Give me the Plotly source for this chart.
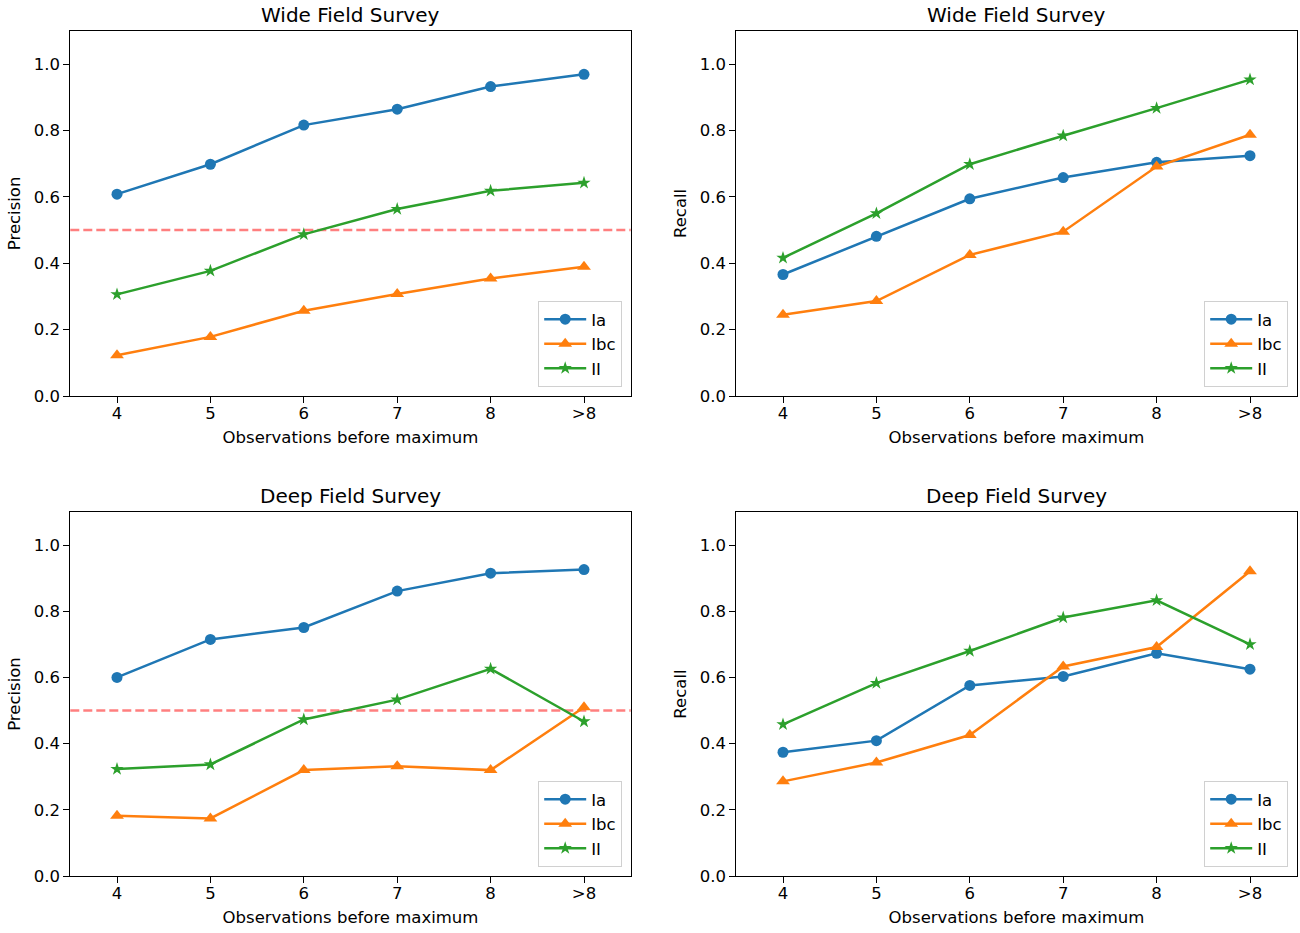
import plotly.graph_objects as go

categories = ["4", "5", "6", "7", "8", ">8"]
series_names = ["Ia", "Ibc", "II"]

wide_precision_ia = [0.608, 0.698, 0.816, 0.864, 0.932, 0.969]
wide_precision_ibc = [0.123, 0.178, 0.257, 0.307, 0.354, 0.389]
wide_precision_ii = [0.306, 0.377, 0.487, 0.563, 0.618, 0.642]

wide_recall_ia = [0.366, 0.481, 0.594, 0.658, 0.704, 0.724]
wide_recall_ibc = [0.245, 0.286, 0.425, 0.495, 0.691, 0.787]
wide_recall_ii = [0.416, 0.550, 0.698, 0.784, 0.867, 0.953]

deep_precision_ia = [0.600, 0.715, 0.751, 0.861, 0.915, 0.926]
deep_precision_ibc = [0.182, 0.174, 0.320, 0.332, 0.320, 0.510]
deep_precision_ii = [0.323, 0.337, 0.473, 0.533, 0.626, 0.467]

deep_recall_ia = [0.374, 0.409, 0.576, 0.603, 0.673, 0.625]
deep_recall_ibc = [0.286, 0.343, 0.426, 0.633, 0.692, 0.921]
deep_recall_ii = [0.458, 0.583, 0.680, 0.781, 0.833, 0.700]

threshold = 0.5
yticks = [0.0, 0.2, 0.4, 0.6, 0.8, 1.0]

panels = [
    ("Wide Field Survey", "Precision", [wide_precision_ia, wide_precision_ibc, wide_precision_ii], True),
    ("Wide Field Survey", "Recall", [wide_recall_ia, wide_recall_ibc, wide_recall_ii], False),
    ("Deep Field Survey", "Precision", [deep_precision_ia, deep_precision_ibc, deep_precision_ii], True),
    ("Deep Field Survey", "Recall", [deep_recall_ia, deep_recall_ibc, deep_recall_ii], False),
]

W, H = 1300, 933
# pixel boxes of axes: (left, right, top, bottom)
boxes = [
    (70.3, 630.7, 30.8, 396.0),
    (736.3, 1296.7, 30.8, 396.0),
    (70.3, 630.7, 512.0, 876.0),
    (736.3, 1296.7, 512.0, 876.0),
]

colors = ["#1f77b4", "#ff7f0e", "#2ca02c"]
symbols = ["circle", "triangle-up", "star"]
msizes = [11, 12, 10]
font_family = "DejaVu Sans, Verdana, sans-serif"
FS = 16.5

fig = go.Figure()
layout = dict()
annotations = []
shapes = []

for i, (title, ylabel, data, show_thr) in enumerate(panels):
    l, r, t, b = boxes[i]
    xd = [l / W, r / W]
    yd = [1 - b / H, 1 - t / H]
    xa = "xaxis" if i == 0 else f"xaxis{i+1}"
    ya = "yaxis" if i == 0 else f"yaxis{i+1}"
    xr = "x" if i == 0 else f"x{i+1}"
    yr = "y" if i == 0 else f"y{i+1}"
    lg = "legend" if i == 0 else f"legend{i+1}"
    for k in range(3):
        fig.add_trace(go.Scatter(
            x=categories, y=data[k], name=series_names[k], mode="lines+markers",
            line=dict(color=colors[k], width=2.5),
            marker=dict(symbol=symbols[k], size=msizes[k], color=colors[k], line=dict(width=0)),
            xaxis=xr, yaxis=yr, legend=lg,
        ))
    layout[xa] = dict(
        domain=xd, anchor=yr, type="category", categoryorder="array", categoryarray=categories,
        range=[-0.5, 5.5], showgrid=False, zeroline=False, showline=True, linecolor="black",
        linewidth=1.2, mirror=True, ticks="outside", ticklen=6, tickcolor="black", tickwidth=1.2,
        ticklabelstandoff=-4,
        tickfont=dict(size=FS, color="black", family=font_family), automargin=False,
        title=dict(text="Observations before maximum", font=dict(size=FS, color="black", family=font_family), standoff=9),
    )
    layout[ya] = dict(
        domain=yd, anchor=xr, range=[0, 1.1], tickvals=yticks, tickformat=".1f",
        showgrid=False, zeroline=False, showline=True, linecolor="black",
        linewidth=1.2, mirror=True, ticks="outside", ticklen=6, tickcolor="black", tickwidth=1.2,
        tickfont=dict(size=FS, color="black", family=font_family), automargin=False,
        title=dict(text=ylabel, font=dict(size=FS, color="black", family=font_family), standoff=8),
    )
    layout[lg] = dict(
        x=(r - 8.5) / W, y=1 - (b - 9) / H, xanchor="right", yanchor="bottom",
        bgcolor="rgba(255,255,255,0.8)", bordercolor="#d0d0d0", borderwidth=1,
        font=dict(size=FS, color="black", family=font_family),
        itemwidth=42, tracegroupgap=0,
    )
    annotations.append(dict(
        text=title, xref="paper", yref="paper", x=(l + r) / 2 / W, y=1 - t / H,
        xanchor="center", yanchor="bottom", yshift=2, showarrow=False,
        font=dict(size=20, color="black", family=font_family),
    ))
    if show_thr:
        shapes.append(dict(
            type="line", xref=f"{xr} domain", yref=yr, x0=0, x1=1, y0=threshold, y1=threshold,
            line=dict(color="rgba(255,0,0,0.5)", width=2.5, dash="9px,4px"), layer="below",
        ))

fig.update_layout(
    width=W, height=H, margin=dict(l=0, r=0, t=0, b=0, autoexpand=False),
    paper_bgcolor="white", plot_bgcolor="white",
    font=dict(family=font_family, color="black"),
    annotations=annotations, shapes=shapes, **layout,
)

fig.write_html("out.html")
